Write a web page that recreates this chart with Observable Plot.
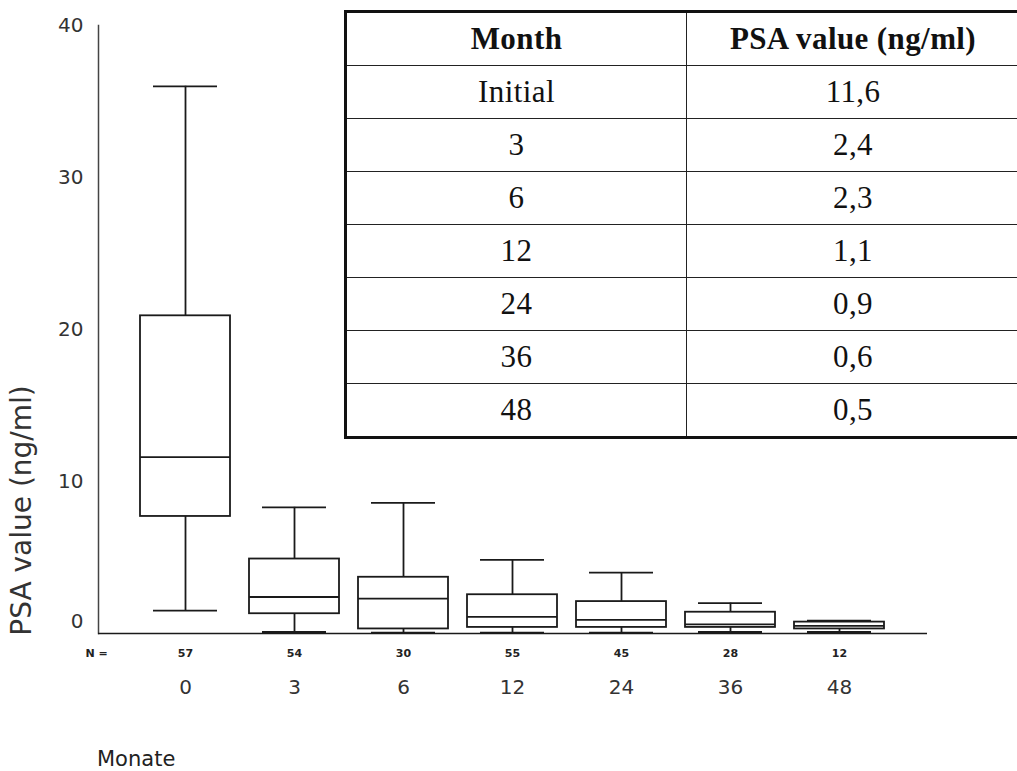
<!DOCTYPE html>
<html>
<head>
<meta charset="utf-8">
<script src="https://cdn.jsdelivr.net/npm/d3@7"></script>
<script src="https://cdn.jsdelivr.net/npm/@observablehq/plot@0.6"></script>
<style>
  html, body { margin: 0; padding: 0; background: #fff; }
  #wrap { position: relative; width: 1017px; height: 771px; overflow: hidden; background: #fff; }
  #chart { position: absolute; left: 0; top: 0; }
  #xtitle { position: absolute; left: 97px; top: 748px; font: 21px/22px "DejaVu Sans", sans-serif; color: #222; }
  #medians {
    position: absolute; left: 344px; top: 10px; width: 678px; height: 421px;
    border-collapse: collapse; border: 3px solid #111;
    font-family: "Liberation Serif", "Times New Roman", serif; font-size: 31px; letter-spacing: 0.4px; color: #111;
  }
  #medians td, #medians th { border: 1.5px solid #222; text-align: center; padding: 0; height: 52px; }
  #medians th { font-weight: bold; }
  #medians col.c1 { width: 341px; }
</style>
</head>
<body>
<div id="wrap">
  <div id="chart"></div>
  <table id="medians"><colgroup><col class="c1"><col></colgroup><thead></thead><tbody></tbody></table>
  <div id="xtitle">Monate</div>
</div>
<script>
// Months after start of therapy and number of patients per visit
const months = ["0", "3", "6", "12", "24", "36", "48"];
const counts = [57, 54, 30, 55, 45, 28, 12];

// Box-plot statistics of PSA (ng/ml) per month
const lowWhisker  = [1.5, 0.1, 0.05, 0.05, 0.05, 0.1, 0.1];
const q1          = [7.7, 1.3, 0.3, 0.4, 0.4, 0.4, 0.3];
const median      = [11.6, 2.4, 2.3, 1.1, 0.9, 0.6, 0.5];
const q3          = [20.9, 4.9, 3.7, 2.55, 2.1, 1.4, 0.75];
const highWhisker = [36, 8.3, 8.6, 4.85, 4.0, 2.0, 0.85];

// Median table
const tableMonths = ["Initial", "3", "6", "12", "24", "36", "48"];
const tableHeader = ["Month", "PSA value (ng/ml)"];

const yTicks = [0, 10, 20, 30, 40];

const rows = months.map((m, i) => ({
  month: m, n: counts[i],
  lo: lowWhisker[i], q1: q1[i], med: median[i], q3: q3[i], hi: highWhisker[i]
}));

const ink = "#1a1a1a";
const sw = 1.8;
const capInset = 13;

const chart = Plot.plot({
  width: 1017,
  height: 771,
  marginLeft: 98,
  marginRight: 90,
  marginTop: 25,
  marginBottom: 138,
  style: { fontFamily: "'DejaVu Sans', sans-serif", background: "white", color: "#222" },
  x: { domain: months, paddingInner: 0.17, paddingOuter: 0.38, label: null },
  y: { domain: [0, 40], label: null },
  marks: [
    // axis lines
    Plot.frame({ anchor: "left", stroke: "#444", strokeWidth: 1.5 }),
    Plot.ruleY([0], { stroke: ink, strokeWidth: 1.6 }),
    // whiskers
    Plot.ruleX(rows, { x: "month", y1: "lo", y2: "q1", stroke: ink, strokeWidth: sw }),
    Plot.ruleX(rows, { x: "month", y1: "q3", y2: "hi", stroke: ink, strokeWidth: sw }),
    Plot.tickY(rows, { x: "month", y: "hi", stroke: ink, strokeWidth: sw, insetLeft: capInset, insetRight: capInset }),
    Plot.tickY(rows, { x: "month", y: "lo", stroke: ink, strokeWidth: sw, insetLeft: capInset, insetRight: capInset }),
    // boxes and medians
    Plot.barY(rows, { x: "month", y1: "q1", y2: "q3", fill: "white", stroke: ink, strokeWidth: sw }),
    Plot.tickY(rows, { x: "month", y: "med", stroke: ink, strokeWidth: sw }),
    // axes
    Plot.axisY(yTicks.filter(t => t > 0), { tickSize: 0, tickPadding: 15, fontSize: 20, fill: "#333", label: null }),
    Plot.axisY(yTicks.filter(t => t === 0), { tickSize: 0, tickPadding: 15, fontSize: 20, fill: "#333", label: null, dy: -12 }),
    Plot.axisX({ tickSize: 0, tickPadding: 46, fontSize: 20, fill: "#333", label: null }),
    // patient counts
    Plot.text(["N ="], { frameAnchor: "bottom-left", dx: -2, dy: 23, textAnchor: "middle", fontSize: 11, fontWeight: "bold", fill: "#222" }),
    Plot.text(rows, { x: "month", text: "n", frameAnchor: "bottom", dy: 23, fontSize: 11, fontWeight: "bold", fill: "#222" }),
    // y title
    Plot.text(["PSA value (ng/ml)"], { frameAnchor: "left", textAnchor: "middle", dx: -76, dy: 181, rotate: -90, fontSize: 28, fill: "#333" })
  ]
});
document.getElementById("chart").append(chart);

// Build the median table from the same values as the boxes
const fmt = v => v.toFixed(1).replace(".", ",");
const thead = document.querySelector("#medians thead");
const hr = document.createElement("tr");
tableHeader.forEach(h => { const th = document.createElement("th"); th.textContent = h; hr.append(th); });
thead.append(hr);
const tbody = document.querySelector("#medians tbody");
tableMonths.forEach((m, i) => {
  const tr = document.createElement("tr");
  [m, fmt(median[i])].forEach(t => { const td = document.createElement("td"); td.textContent = t; tr.append(td); });
  tbody.append(tr);
});
</script>
</body>
</html>
